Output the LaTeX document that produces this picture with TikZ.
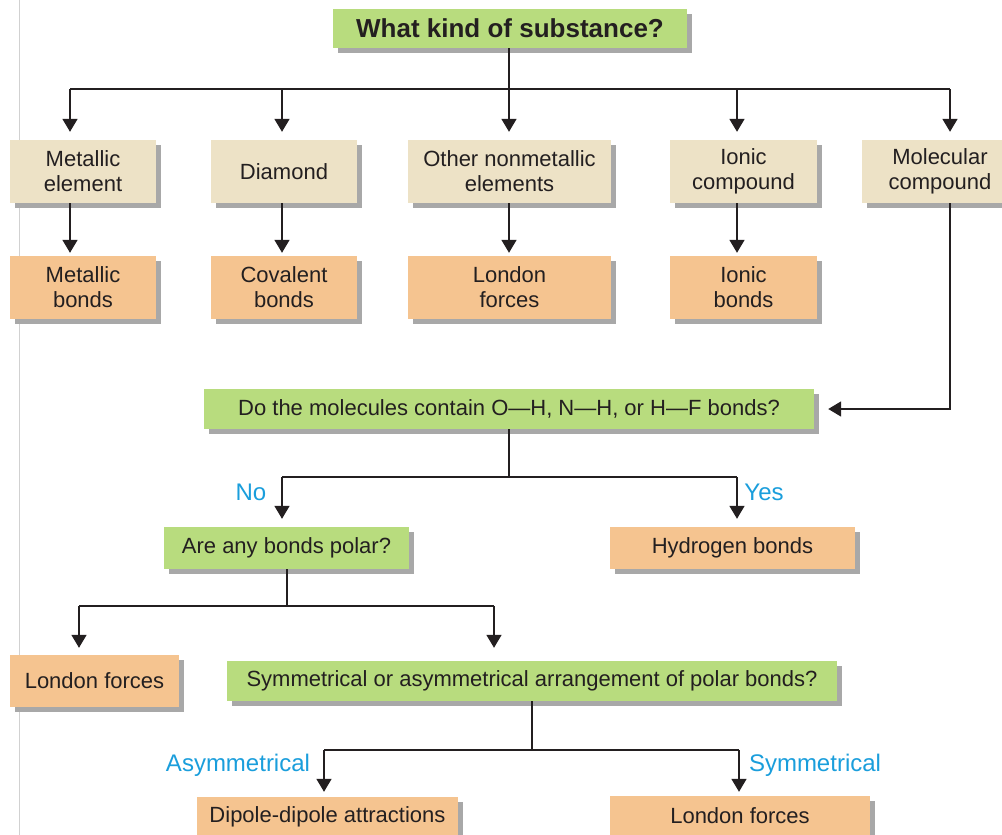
\documentclass[tikz,border=0pt]{standalone}
\usepackage{fontspec}
\setmainfont{Liberation Sans}
\usetikzlibrary{arrows.meta,shadows}
\definecolor{gbox}{HTML}{B8DC7E}
\definecolor{bbox}{HTML}{EDE2C6}
\definecolor{obox}{HTML}{F5C490}
\definecolor{shd}{HTML}{A8A8A8}
\definecolor{txt}{HTML}{231F20}
\definecolor{lbl}{HTML}{1A9EDC}
\tikzset{
  box/.style={rectangle, inner sep=0pt, align=center, text=txt,
    font=\fontsize{22}{25}\selectfont,
    drop shadow={shadow xshift=5pt, shadow yshift=-5pt, fill=shd, opacity=1}},
  gbx/.style={box, fill=gbox},
  bbx/.style={box, fill=bbox},
  obx/.style={box, fill=obox},
  wire/.style={draw=txt, line width=1.7pt},
  arr/.style={wire, -{Triangle[width=15pt,length=13pt]}},
  lab/.style={text=lbl, font=\fontsize{24}{28}\selectfont, inner sep=0pt},
}
\begin{document}
\begin{tikzpicture}[x=1pt,y=-1pt]
\useasboundingbox (0,0) rectangle (1002,835);
\clip (0,0) rectangle (1002,835);
\fill[white] (0,0) rectangle (1002,835);
\draw[black!18, line width=1pt] (19,0) -- (19,835);

% boxes
\node[gbx, minimum width=354pt, minimum height=39pt, font=\fontsize{26}{30}\selectfont\bfseries] (title) at (510,28.5) {What kind of substance?};

\node[bbx, minimum width=146pt, minimum height=63pt] (me) at (83,171.5) {Metallic\\element};
\node[bbx, minimum width=146pt, minimum height=63pt] (di) at (284,171.5) {Diamond};
\node[bbx, minimum width=203pt, minimum height=63pt] (on) at (509.5,171.5) {Other nonmetallic\\elements};
\node[bbx, minimum width=147pt, minimum height=63pt] (ic) at (743.5,171.5) {Ionic\\compound};
\node[bbx, minimum width=156pt, minimum height=63pt] (mc) at (940,171.5) {Molecular\\compound};

\node[obx, minimum width=146pt, minimum height=63pt] (mb) at (83,287.5) {Metallic\\bonds};
\node[obx, minimum width=146pt, minimum height=63pt] (cb) at (284,287.5) {Covalent\\bonds};
\node[obx, minimum width=203pt, minimum height=63pt] (lfa) at (509.5,287.5) {London\\forces};
\node[obx, minimum width=147pt, minimum height=63pt] (ib) at (743.5,287.5) {Ionic\\bonds};

\node[gbx, minimum width=610pt, minimum height=40pt] (q1) at (509,409) {Do the molecules contain O—H, N—H, or H—F bonds?};

\node[gbx, minimum width=245pt, minimum height=42pt] (pol) at (286.5,548) {Are any bonds polar?};
\node[obx, minimum width=245pt, minimum height=42pt] (hb) at (732.5,548) {Hydrogen bonds};

\node[obx, minimum width=169pt, minimum height=52pt] (lfb) at (94.5,681) {London forces};
\node[gbx, minimum width=610pt, minimum height=40pt] (sym) at (532,681) {Symmetrical or asymmetrical arrangement of polar bonds?};

\node[obx, minimum width=261pt, minimum height=40pt] (dd) at (327.5,817) {Dipole-dipole attractions};
\node[obx, minimum width=260pt, minimum height=40pt] (lfc) at (740,816) {London forces};

% labels
\node[lab] (no) at (251,492) {No};
\node[lab] (yes) at (764,492) {Yes};
\node[lab] (asy) at (238,765) {Asymmetrical};
\node[lab] (sy) at (815,765) {Symmetrical};

% bus coordinates
\coordinate (t1) at (70,89);
\coordinate (t2) at (282,89);
\coordinate (t3) at (509,89);
\coordinate (t4) at (737,89);
\coordinate (t5) at (950,89);
\coordinate (m1) at (282,477);
\coordinate (m2) at (737,477);
\coordinate (p0) at (287,606);
\coordinate (p1) at (79,606);
\coordinate (p2) at (494,606);
\coordinate (s1) at (324,750);
\coordinate (s2) at (739,750);

% connectors
\draw[wire] (title.south -| t3) -- (t3);
\draw[wire] (t1) -- (t5);
\draw[arr, shorten >=8pt] (t1) -- (t1 |- me.north);
\draw[arr, shorten >=8pt] (t2) -- (t2 |- di.north);
\draw[arr, shorten >=8pt] (t3) -- (t3 |- on.north);
\draw[arr, shorten >=8pt] (t4) -- (t4 |- ic.north);
\draw[arr, shorten >=8pt] (t5) -- (t5 |- mc.north);

\draw[arr, shorten >=3pt] (t1 |- me.south) -- (t1 |- mb.north);
\draw[arr, shorten >=3pt] (t2 |- di.south) -- (t2 |- cb.north);
\draw[arr, shorten >=3pt] (t3 |- on.south) -- (t3 |- lfa.north);
\draw[arr, shorten >=3pt] (t4 |- ic.south) -- (t4 |- ib.north);

\draw[arr, shorten >=14pt] (t5 |- mc.south) |- (q1.east);

\draw[wire] (q1.south) -- (q1.south |- m1);
\draw[wire] (m1) -- (m2);
\draw[arr, shorten >=8pt] (m1) -- (m1 |- pol.north);
\draw[arr, shorten >=8pt] (m2) -- (m2 |- hb.north);

\draw[wire] (p0 |- pol.south) -- (p0);
\draw[wire] (p1) -- (p2);
\draw[arr, shorten >=7pt] (p1) -- (p1 |- lfb.north);
\draw[arr, shorten >=13pt] (p2) -- (p2 |- sym.north);

\draw[wire] (sym.south) -- (sym.south |- s1);
\draw[wire] (s1) -- (s2);
\draw[arr, shorten >=5pt] (s1) -- (s1 |- dd.north);
\draw[arr, shorten >=4pt] (s2) -- (s2 |- lfc.north);
\end{tikzpicture}
\end{document}
